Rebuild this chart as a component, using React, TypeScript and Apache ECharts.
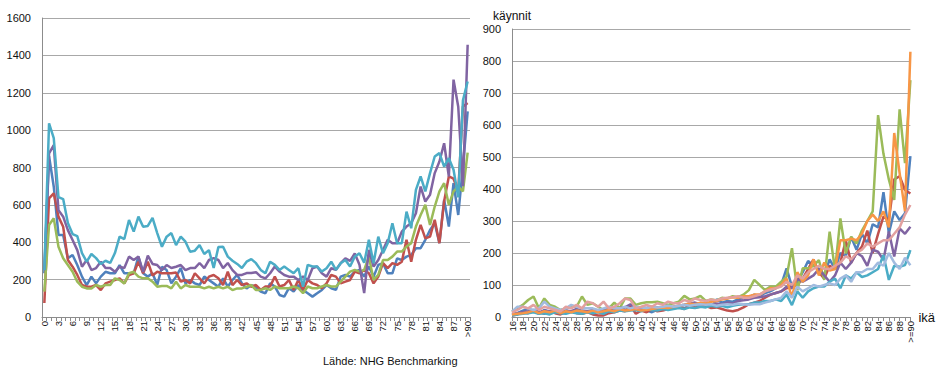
import React, { useEffect, useRef } from 'react';
import * as echarts from 'echarts';

const FONT = '"Liberation Sans", Arial, sans-serif';

const leftAges: string[] = [...Array.from({ length: 90 }, (_, i) => String(i)), '>90'];
const rightAges: string[] = [...Array.from({ length: 74 }, (_, i) => String(i + 16)), '>=90'];

const leftYTicks = { min: 0, max: 1600, interval: 200 };
const rightYTicks = { min: 0, max: 900, interval: 100 };

const leftBlue = [234,860,697,439,439,314,332,278,216,171,
216,180,216,242,234,234,278,234,234,234,
323,234,216,234,171,269,251,180,216,262,
180,198,180,171,216,198,180,162,207,162,
198,225,180,153,171,160,136,127,180,163,
118,109,154,136,171,145,127,109,127,145,
171,154,145,216,225,216,243,252,216,270,
216,279,288,234,234,314,305,323,332,368,
368,413,466,502,395,627,484,716,546,805,
1100];

const leftRed = [75,635,662,537,483,305,269,225,171,162,
162,171,144,180,189,198,207,180,225,234,
296,234,296,222,242,234,234,234,238,189,
198,180,234,207,180,216,225,207,171,242,
171,198,171,180,162,171,145,163,163,216,
163,171,198,145,198,145,198,180,171,154,
180,225,216,180,189,198,243,234,252,234,
180,216,288,261,288,279,296,413,296,413,
493,421,430,520,395,620,752,740,672,1127,
1145];

const leftGreen = [136,492,528,376,314,278,242,189,162,153,
153,171,162,171,171,207,198,180,234,242,
216,207,207,189,162,166,166,153,189,153,
171,162,162,162,153,162,153,162,153,162,
144,153,153,162,171,144,145,154,145,163,
154,154,154,163,154,127,163,154,154,163,
171,163,163,189,216,243,252,243,252,323,
198,225,305,305,323,350,350,377,395,484,
546,600,493,591,672,716,600,672,698,672,
880];

const leftPurple = [251,876,920,572,537,465,412,358,269,305,
251,262,296,262,262,242,269,262,323,305,
323,242,328,284,278,251,278,262,269,278,
251,262,262,289,262,305,315,305,262,289,
251,225,225,235,235,240,216,207,234,270,
243,225,216,216,198,216,198,261,270,234,
216,261,252,288,314,300,340,280,128,359,
270,305,359,413,395,395,457,484,502,555,
698,618,654,770,832,930,752,1270,1125,700,
1457];

const leftCyan = [250,1036,957,642,631,503,444,433,342,296,
337,315,284,301,289,342,430,417,519,457,
537,483,487,530,449,376,430,449,385,430,
403,349,355,385,337,358,262,374,376,323,
301,284,262,296,310,288,252,234,296,279,
252,270,252,234,261,162,279,270,270,243,
261,296,252,288,305,270,323,341,290,413,
288,430,341,395,502,395,395,564,475,680,
752,672,770,859,877,805,850,788,640,1160,
1260];

const rightBlue = [8,12,20,25,18,10,22,15,18,12,20,16,22,18,15,
20,18,15,22,18,25,20,28,22,25,20,15,22,25,28,
30,32,28,35,40,38,45,30,55,45,50,48,55,60,62,
70,65,75,80,90,100,152,95,110,140,175,160,150,130,180,
150,200,190,250,210,260,230,290,280,390,262,330,303,324,503];

const rightRed = [5,8,15,12,20,15,10,18,12,8,15,18,12,10,15,
8,5,5,12,15,20,18,35,10,20,15,25,18,20,25,
28,30,25,35,30,32,35,28,30,25,20,18,22,30,40,
45,50,60,70,75,80,90,95,100,120,150,180,140,120,160,
150,170,240,170,200,220,270,200,260,314,303,430,440,397,386];

const rightGreen = [17,27,38,53,64,27,58,38,32,22,27,32,32,64,38,
43,32,22,27,45,27,58,58,38,43,46,46,48,43,38,
43,48,66,55,58,66,50,55,52,60,58,65,62,70,84,
116,100,84,95,95,110,126,215,84,152,152,160,178,116,267,
147,308,199,251,230,270,300,330,631,510,430,366,649,481,740];

const rightPurple = [10,12,15,18,22,15,20,18,22,15,20,18,25,20,18,
22,18,20,25,20,28,30,40,25,30,28,32,30,28,30,
32,35,38,42,45,40,45,38,42,40,45,42,50,52,55,
60,62,65,70,75,80,95,90,120,110,120,130,150,130,110,
130,170,150,170,200,190,160,210,204,178,267,189,277,260,282];

const rightAqua = [5,8,10,12,15,10,12,8,15,12,10,15,12,10,15,
12,15,10,18,15,20,18,20,22,18,25,22,20,25,22,
25,28,25,30,28,32,30,35,32,35,30,35,38,40,40,
45,45,50,50,55,50,70,37,80,60,80,90,95,95,110,
120,90,130,120,140,125,130,140,150,194,116,160,157,162,209];

const rightOrange = [8,10,12,15,20,12,18,15,20,12,18,15,20,18,15,
20,15,18,22,18,25,20,22,25,20,22,25,28,30,28,
32,35,38,42,40,45,42,48,50,55,58,62,60,65,65,
70,70,80,90,90,100,120,60,140,110,130,180,130,170,145,
150,240,240,245,240,260,300,320,300,330,280,575,450,330,829];

const rightLightBlue = [17,32,32,27,22,27,48,32,27,22,27,38,32,27,27,
27,22,27,32,27,27,32,27,32,30,28,32,30,32,35,
32,35,38,35,38,40,38,40,35,38,40,38,42,40,38,
40,40,45,50,55,60,80,60,95,80,90,100,95,100,105,
100,120,130,110,140,140,150,150,170,160,200,170,150,185,162];

const rightPink = [14,22,32,27,38,22,32,27,22,17,32,27,38,27,48,
43,32,48,27,32,43,58,53,27,32,38,32,43,38,48,
43,43,53,48,58,53,50,55,52,58,60,62,65,60,60,
65,70,80,85,90,95,110,100,130,120,140,150,160,150,150,
160,170,190,180,200,210,230,220,230,240,240,260,280,320,350];

const leftSeries = [
  { data: leftBlue, color: '#4F81BD' },
  { data: leftRed, color: '#C0504D' },
  { data: leftGreen, color: '#9BBB59' },
  { data: leftPurple, color: '#8064A2' },
  { data: leftCyan, color: '#4BACC6' },
];

const rightSeries = [
  { data: rightBlue, color: '#4F81BD' },
  { data: rightRed, color: '#C0504D' },
  { data: rightGreen, color: '#9BBB59' },
  { data: rightPurple, color: '#8064A2' },
  { data: rightAqua, color: '#4BACC6' },
  { data: rightOrange, color: '#F79646' },
  { data: rightLightBlue, color: '#A2BBDF' },
  { data: rightPink, color: '#E2A09F' },
];

const AXIS = '#8C8C8C';
const GRID = '#A8A8A8';
const TXT = '#111111';

export default function App() {
  const ref = useRef<HTMLDivElement>(null);
  useEffect(() => {
    if (!ref.current) return;
    const chart = echarts.init(ref.current, undefined, { renderer: 'svg' });
    const mkX = (gridIndex: number, data: string[], boundaryGap: boolean, interval: number, extra: any = {}) => ({
      type: 'category',
      gridIndex,
      data,
      boundaryGap,
      axisLine: { show: true, lineStyle: { color: AXIS, width: 1 } },
      axisTick: { show: true, interval: 0, length: 4, lineStyle: { color: AXIS } },
      axisLabel: { interval, rotate: 90, fontSize: 9.5, color: TXT, margin: 4, fontFamily: FONT },
      splitLine: { show: false },
      ...extra,
    });
    const mkY = (gridIndex: number, t: any, extra: any = {}) => ({
      type: 'value',
      gridIndex,
      min: t.min,
      max: t.max,
      interval: t.interval,
      axisLine: { show: true, lineStyle: { color: AXIS, width: 1 } },
      axisTick: { show: false },
      axisLabel: { fontSize: 11, color: TXT, margin: 11, fontFamily: FONT, formatter: (v: number) => String(v) },
      splitLine: { show: true, lineStyle: { color: GRID, width: 1 } },
      ...extra,
    });
    const series: any[] = [];
    leftSeries.forEach((s) =>
      series.push({
        type: 'line', xAxisIndex: 0, yAxisIndex: 0, data: s.data,
        symbol: 'none', showSymbol: false,
        lineStyle: { color: s.color, width: 2.5 }, itemStyle: { color: s.color },
      })
    );
    rightSeries.forEach((s) =>
      series.push({
        type: 'line', xAxisIndex: 1, yAxisIndex: 1, data: s.data,
        symbol: 'none', showSymbol: false,
        lineStyle: { color: s.color, width: 2.5 }, itemStyle: { color: s.color },
      })
    );
    chart.setOption({
      animation: false,
      backgroundColor: '#ffffff',
      textStyle: { fontFamily: FONT },
      grid: [
        { left: 42, top: 18, width: 428, height: 299 },
        { left: 512, top: 29, width: 400, height: 288 },
      ],
      xAxis: [
        mkX(0, leftAges, true, 2),
        mkX(1, rightAges, false, 1, {
          name: 'ikä', nameLocation: 'end', nameGap: 8,
          nameTextStyle: { fontSize: 13, color: TXT, fontFamily: FONT },
        }),
      ],
      yAxis: [
        mkY(0, leftYTicks),
        mkY(1, rightYTicks, {
          name: 'käynnit', nameLocation: 'end', nameGap: 7,
          nameTextStyle: { fontSize: 12, color: TXT, fontFamily: FONT },
        }),
      ],
      graphic: [
        {
          type: 'text', left: 323, top: 355,
          style: { text: 'Lähde: NHG Benchmarking', fontSize: 11, fill: TXT, fontFamily: FONT },
        },
      ],
      series,
    });
    return () => chart.dispose();
  }, []);
  return <div ref={ref} style={{ position: 'absolute', left: 0, top: 0, width: 938, height: 367 }} />;
}
